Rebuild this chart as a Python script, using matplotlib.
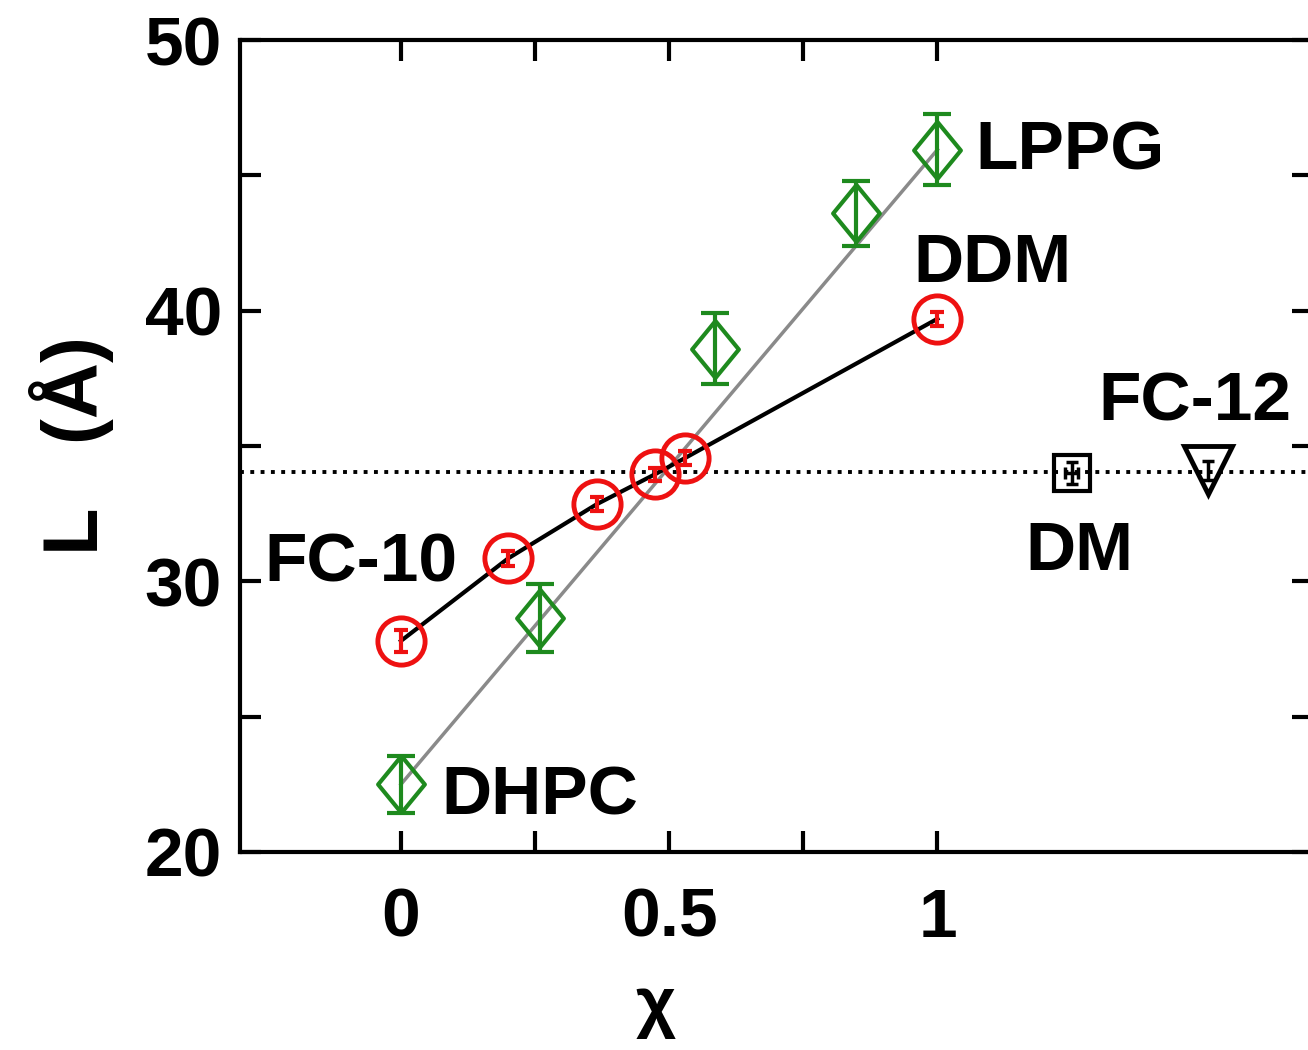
import numpy as np
import matplotlib
matplotlib.use("Agg")
import matplotlib.pyplot as plt
from matplotlib.path import Path

plt.rcParams['font.family'] = ['Liberation Sans', 'DejaVu Sans']
plt.rcParams['font.weight'] = 'bold'

# FC-10 / DDM mixtures (red circles)
red_x = np.array([0.0, 0.2, 0.365, 0.473, 0.529, 1.0])
red_y = np.array([27.8, 30.85, 32.85, 33.95, 34.55, 39.7])
red_err = np.array([0.4, 0.28, 0.25, 0.25, 0.25, 0.25])

# DHPC / LPPG mixtures (green diamonds)
green_x = np.array([0.0, 0.26, 0.585, 0.848, 1.0])
green_y = np.array([22.5, 28.65, 38.6, 43.6, 45.95])
green_err = np.array([1.05, 1.25, 1.3, 1.2, 1.3])

# single detergents
dm_x, dm_y, dm_err = 1.25, 34.0, 0.4
fc12_x, fc12_y, fc12_err = 1.504, 34.1, 0.35
ref_level = 34.05

labels = ["LPPG", "DDM", "FC-12", "DM", "FC-10", "DHPC"]
label_x = [1.07, 0.955, 1.30, 1.163, -0.255, 0.075]
label_y = [45.2, 41.05, 35.95, 30.42, 30.0, 21.37]

green = '#1e8a1e'
red = '#ee1111'

diamond = Path([(0, 1), (0.82, 0), (0, -1), (-0.82, 0), (0, 1)],
               [Path.MOVETO, Path.LINETO, Path.LINETO, Path.LINETO, Path.CLOSEPOLY])

fig = plt.figure(figsize=(13.08, 10.5), dpi=100)
ax = fig.add_axes([240/1308, 198/1050, 1073/1308, 812/1050])

ax.axhline(ref_level, color='black', linestyle=':', lw=2.8, zorder=1)

# straight line between the pure DHPC and pure LPPG values
ax.plot([green_x[0], green_x[-1]], [green_y[0], green_y[-1]], color='#8a8a8a', lw=2.5, zorder=2)
ax.plot(red_x, red_y, color='black', lw=3, zorder=2)

ax.errorbar(green_x, green_y, yerr=green_err, fmt='none', ecolor=green,
            elinewidth=3, capsize=10, capthick=3, zorder=3)
ax.plot(green_x, green_y, linestyle='none', marker=diamond, markersize=41,
        markerfacecolor='none', markeredgecolor=green, markeredgewidth=3, zorder=4)

ax.errorbar(red_x, red_y, yerr=red_err, fmt='none', ecolor=red,
            elinewidth=3, capsize=5, capthick=3, zorder=3)
ax.plot(red_x, red_y, linestyle='none', marker='o', markersize=34,
        markerfacecolor='none', markeredgecolor=red, markeredgewidth=3.5, zorder=4)

ax.errorbar([dm_x], [dm_y], yerr=[dm_err], xerr=[0.012], fmt='none', ecolor='black',
            elinewidth=2.5, capsize=4, capthick=2.5, zorder=3)
ax.plot([dm_x], [dm_y], linestyle='none', marker='s', markersize=26,
        markerfacecolor='none', markeredgecolor='black', markeredgewidth=3, zorder=4)

ax.errorbar([fc12_x], [fc12_y], yerr=[fc12_err], fmt='none', ecolor='black',
            elinewidth=2.5, capsize=4, capthick=2.5, zorder=3)
ax.plot([fc12_x], [fc12_y], linestyle='none', marker='v', markersize=34,
        markerfacecolor='none', markeredgecolor='black', markeredgewidth=3.5, zorder=4)

for txt, tx, ty in zip(labels, label_x, label_y):
    ax.text(tx, ty, txt, fontsize=50, fontweight='bold', ha='left', va='baseline', zorder=5)

ax.set_xlim(-0.3, 1.7)
ax.set_ylim(20, 50)
ax.set_xticks([0, 0.25, 0.5, 0.75, 1.0])
ax.set_xticklabels(['0', '', '0.5', '', '1'])
ax.set_yticks([20, 25, 30, 35, 40, 45, 50])
ax.set_yticklabels(['20', '', '30', '', '40', '', '50'])
ax.tick_params(axis='both', direction='in', length=15, width=3, labelsize=50,
               top=True, right=True)
ax.tick_params(axis='x', pad=25)
ax.tick_params(axis='y', pad=13)
for s in ax.spines.values():
    s.set_linewidth(3)

ax.set_xlabel('χ', fontsize=50, fontweight='bold')
ax.xaxis.set_label_coords(0.387, -0.152)
ax.set_ylabel('L   (Å)', fontsize=56, fontweight='bold', labelpad=22)

fig.savefig('out.png', dpi=100)
